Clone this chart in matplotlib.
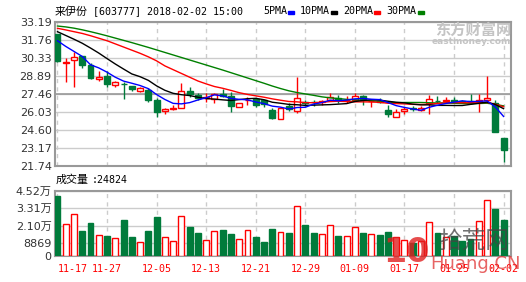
import matplotlib
matplotlib.use('Agg')
import matplotlib.pyplot as plt
from matplotlib.patches import Rectangle
import numpy as np

# ---- data (来伊份 603777, daily) ----
dates = ['11-17', '11-27', '12-05', '12-13', '12-21', '12-29', '01-09', '01-17', '01-25', '02-02']
opens = [32.20, 29.95, 30.20, 30.49, 29.77, 28.66, 28.90, 28.21, 28.28, 28.10,
         27.71, 27.79, 26.99, 26.09, 26.30, 26.33, 27.71, 27.39, 27.15, 27.07,
         27.45, 27.31, 26.41, 26.95, 27.04, 26.99, 26.20, 25.45, 26.51, 26.12,
         26.80, 26.86, 26.85, 26.99, 27.15, 26.95, 26.99, 27.31, 26.88, 26.90,
         26.20, 25.61, 26.14, 26.35, 26.20, 26.73, 26.90, 26.88, 27.00, 26.88,
         26.88, 26.90, 26.99, 26.73, 24.00]
highs = [32.25, 30.30, 30.78, 30.52, 29.90, 29.30, 29.30, 28.53, 28.45, 28.12,
         28.05, 27.92, 27.12, 26.33, 26.59, 28.37, 28.05, 27.57, 27.52, 27.52,
         27.84, 27.65, 26.73, 27.26, 27.12, 27.00, 26.33, 26.40, 26.73, 28.79,
         26.99, 26.99, 26.99, 27.57, 27.39, 27.31, 27.52, 27.39, 26.99, 27.12,
         26.59, 26.25, 26.46, 26.51, 26.51, 27.39, 27.31, 27.26, 27.26, 26.95,
         27.47, 27.47, 28.90, 26.99, 24.00]
lows = [30.00, 28.40, 28.05, 29.56, 28.63, 28.47, 28.05, 28.05, 27.07, 27.73,
        27.65, 26.83, 25.67, 25.85, 26.20, 26.33, 27.26, 26.99, 26.86, 26.73,
        27.20, 26.06, 26.41, 26.59, 26.41, 26.41, 25.45, 25.45, 26.14, 25.98,
        26.51, 26.51, 26.59, 26.95, 26.73, 26.73, 26.95, 26.59, 26.41, 26.73,
        25.61, 25.61, 25.88, 26.14, 26.14, 25.88, 26.73, 26.78, 26.78, 26.80,
        26.70, 26.06, 26.73, 24.47, 22.09]
closes = [30.10, 29.98, 30.38, 29.80, 28.71, 28.85, 28.24, 28.42, 28.24, 27.87,
          27.94, 26.99, 26.06, 26.27, 26.35, 27.73, 27.47, 27.12, 27.20, 27.47,
          27.30, 26.51, 26.73, 27.00, 26.59, 26.67, 25.53, 26.33, 26.25, 27.18,
          26.75, 26.80, 26.90, 27.20, 26.99, 27.00, 27.31, 27.04, 26.92, 26.85,
          25.85, 26.06, 26.30, 26.30, 26.33, 27.04, 26.88, 27.00, 26.83, 26.85,
          26.73, 26.99, 27.18, 24.47, 23.02]
# volume in 万 shares
volume = [4.17, 2.19, 2.89, 1.72, 2.28, 1.42, 1.38, 1.21, 2.49, 1.31,
          0.93, 1.72, 2.70, 1.28, 1.00, 2.75, 2.00, 1.59, 1.07, 1.70,
          1.79, 1.52, 1.14, 1.77, 1.31, 0.96, 1.86, 1.63, 1.59, 3.45,
          2.14, 1.59, 1.49, 2.12, 1.38, 1.35, 1.98, 1.59, 1.49, 1.45,
          1.68, 1.30, 1.10, 0.90, 1.00, 2.33, 1.58, 1.30, 1.40, 1.00,
          1.20, 2.42, 3.87, 3.26, 2.4824]
ma5 = [31.70, 31.25, 30.85, 30.45, 29.79, 29.54, 29.20, 28.80, 28.49, 28.32,
       28.14, 27.89, 27.42, 27.03, 26.72, 26.68, 26.78, 26.99, 27.17, 27.40,
       27.31, 27.12, 27.04, 27.00, 26.83, 26.70, 26.50, 26.42, 26.27, 26.39,
       26.41, 26.66, 26.78, 26.97, 26.93, 26.98, 27.08, 27.11, 27.05, 27.02,
       26.79, 26.54, 26.40, 26.27, 26.17, 26.41, 26.57, 26.71, 26.82, 26.92,
       26.86, 26.88, 26.92, 26.44, 25.68]
ma10 = [32.42, 32.12, 31.82, 31.50, 31.12, 30.72, 30.28, 29.85, 29.45, 29.06,
        28.84, 28.55, 28.11, 27.76, 27.52, 27.41, 27.34, 27.21, 27.10, 27.06,
        27.00, 26.95, 27.02, 27.09, 27.12, 27.01, 26.81, 26.73, 26.64, 26.61,
        26.56, 26.58, 26.60, 26.62, 26.66, 26.70, 26.87, 26.95, 27.01, 26.98,
        26.89, 26.81, 26.76, 26.66, 26.60, 26.60, 26.56, 26.56, 26.55, 26.55,
        26.64, 26.73, 26.82, 26.63, 26.30]
ma20 = [32.69, 32.56, 32.42, 32.28, 32.10, 31.90, 31.70, 31.45, 31.20, 30.95,
        30.70, 30.42, 30.10, 29.70, 29.40, 29.10, 28.80, 28.50, 28.27, 28.06,
        27.92, 27.75, 27.57, 27.43, 27.32, 27.21, 27.08, 26.97, 26.87, 26.84,
        26.78, 26.77, 26.81, 26.86, 26.89, 26.86, 26.84, 26.84, 26.83, 26.80,
        26.73, 26.70, 26.68, 26.64, 26.63, 26.65, 26.72, 26.76, 26.78, 26.77,
        26.77, 26.77, 26.79, 26.65, 26.45]
ma30 = [32.87, 32.80, 32.70, 32.57, 32.42, 32.26, 32.09, 31.91, 31.73, 31.55,
        31.36, 31.17, 30.97, 30.77, 30.57, 30.37, 30.17, 29.97, 29.77, 29.57,
        29.37, 29.16, 28.95, 28.74, 28.53, 28.32, 28.10, 27.90, 27.72, 27.58,
        27.47, 27.36, 27.24, 27.16, 27.10, 27.04, 27.01, 26.96, 26.92, 26.88,
        26.82, 26.78, 26.79, 26.79, 26.79, 26.77, 26.75, 26.75, 26.73, 26.71,
        26.70, 26.71, 26.73, 26.64, 26.52]
price_ticks = [21.74, 23.17, 24.60, 26.03, 27.46, 28.89, 30.33, 31.76, 33.19]
vol_ticks = [0, 0.8869, 2.10, 3.31, 4.52]
vol_labels = ['0', '8869', '2.10万', '3.31万', '4.52万']

RED = '#ff0000'
GREEN = '#007b3b'
GRID = '#cccccc'
MONO = 'DejaVu Sans Mono'
CJK = 'Noto Sans CJK SC'

W, H = 526, 282
fig = plt.figure(figsize=(W / 100, H / 100), dpi=100)


def rect(l, t, r, b):
    return [l / W, 1 - b / H, (r - l) / W, (b - t) / H]


ax = fig.add_axes(rect(54.5, 22, 511, 166))
axv = fig.add_axes(rect(54.5, 191, 511, 255.7))

o = np.array(opens); c = np.array(closes)
x = np.arange(len(c))
up = c >= o
cols = np.where(up, RED, GREEN)
faces = np.where(up, 'white', GREEN)

# price panel
ax.vlines(x, lows, highs, colors=cols, lw=1, zorder=3)
ax.bar(x, np.maximum(np.abs(c - o), 0.03), bottom=np.minimum(o, c), width=0.72,
       color=faces, edgecolor=cols, linewidth=1, zorder=3)
for ma, mc in [(ma30, 'green'), (ma20, RED), (ma10, 'black'), (ma5, 'blue')]:
    ax.plot(x, ma, color=mc, lw=1, zorder=4)

# volume panel
axv.bar(x, volume, width=0.72, color=faces, edgecolor=cols, linewidth=1, zorder=3)

date_idx = list(range(0, len(c), 6))
for a in (ax, axv):
    a.set_xlim(-0.36, 54.9)
    for i in date_idx:
        a.axvline(i, color=GRID, lw=1, ls=(0, (3, 3)), zorder=1)
    for s in a.spines.values():
        s.set_color('#999999')
        s.set_linewidth(1.5)
    a.tick_params(length=0, pad=2, labelsize=8, labelcolor='#333333')
    a.yaxis.grid(True, color=GRID, lw=1, zorder=1)
    a.set_axisbelow(True)

ax.set_ylim(price_ticks[0], price_ticks[-1])
ax.set_yticks(price_ticks, ['%.2f' % t for t in price_ticks])
ax.axhline(27.46, color='#999999', lw=1.2, zorder=2)
ax.set_xticks([])

axv.set_ylim(0, 4.52)
axv.set_yticks(vol_ticks, vol_labels)
for lab in axv.get_yticklabels():
    lab.set_family(['DejaVu Sans', CJK])
axv.set_xticks(date_idx, dates)
axv.tick_params(axis='x', pad=6, labelcolor=RED)
for lab in axv.get_xticklabels():
    lab.set_family(MONO)
    lab.set_fontsize(7.2)
axv.get_xticklabels()[0].set_ha('left')

# header texts
fig.text(55 / W, 1 - 14.5 / H, '来伊份', family=CJK, size=7.9, va='baseline', color='black')
fig.text(93 / W, 1 - 14.5 / H, '[603777] 2018-02-02 15:00', family=MONO, size=7.2,
         va='baseline', color='black')
for name, tx, sq, scol in [('5PMA', 263, 288, 'blue'), ('10PMA', 300, 331, 'black'),
                           ('20PMA', 343, 374, RED), ('30PMA', 386, 418, 'green')]:
    fig.text(tx / W, 1 - 14.5 / H, name, family=MONO, size=7.2, va='baseline')
    fig.patches.append(Rectangle((sq / W, 1 - 13.5 / H), 6 / W, 2.5 / H,
                                 transform=fig.transFigure, color=scol, figure=fig))
fig.text(56 / W, 1 - 183 / H, '成交量', family=CJK, size=7.9, va='baseline')
fig.text(92 / W, 1 - 183 / H, ':24824', family=MONO, size=7.2, va='baseline')

# watermarks
fig.text(511 / W, 1 - 30 / H, '东方财富网', family=CJK, size=11, weight='bold',
         color='#c4c4c4', ha='right', va='center')
fig.text(511 / W, 1 - 41.5 / H, 'eastmoney.com', family='DejaVu Sans', size=6.5,
         weight='bold', color='#c4c4c4', ha='right', va='center')
fig.text(383 / W, 1 - 252 / H, '10', family='DejaVu Sans', size=24, weight='bold',
         color='#e02020', alpha=0.8, va='center')
fig.text(438 / W, 1 - 242 / H, '拾荒网', family=CJK, size=17, color='#444444',
         alpha=0.75, va='center')
fig.text(430 / W, 1 - 264 / H, 'Huang.CN', family='DejaVu Sans', size=13,
         color='#e03030', alpha=0.75, va='center')

fig.savefig('out.png', dpi=100)
